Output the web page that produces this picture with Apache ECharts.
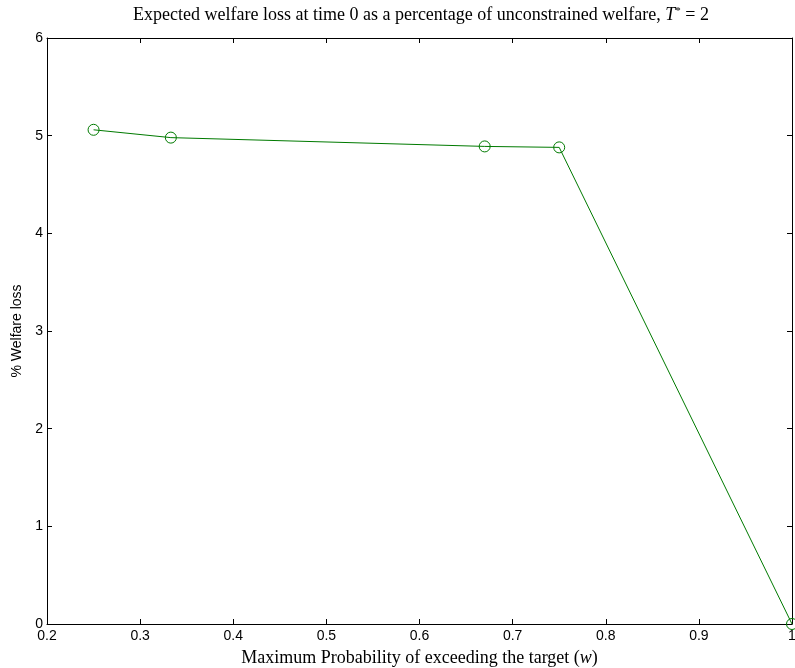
<!DOCTYPE html>
<html>
<head>
<meta charset="utf-8">
<script src="https://cdn.jsdelivr.net/npm/echarts@6/dist/echarts.min.js"></script>
<style>
  html, body { margin: 0; padding: 0; background: #fff; }
  #chart { width: 795px; height: 668px; }
</style>
</head>
<body>
<div id="chart"></div>
<script>
// Maximum probability of exceeding the target (w)
const probW = [0.25, 0.333, 0.67, 0.75, 1.0];
// Expected welfare loss at time 0, % of unconstrained welfare
const welfareLoss = [5.06, 4.98, 4.89, 4.88, 0.0];
const xTicks = [0.2, 0.3, 0.4, 0.5, 0.6, 0.7, 0.8, 0.9, 1];
const yTicks = [0, 1, 2, 3, 4, 5, 6];

const chart = echarts.init(document.getElementById('chart'));
const sans = 'Liberation Sans, Arial, sans-serif';
const serif = 'Liberation Serif, Times New Roman, serif';
const green = '#007a00';

const tickCommon = { show: true, inside: true, length: 5, lineStyle: { color: '#000', width: 1 } };
const lineCommon = { show: true, onZero: false, lineStyle: { color: '#000', width: 1 } };

chart.setOption({
  backgroundColor: '#fff',
  animation: false,
  title: {
    text: 'Expected welfare loss at time 0 as a percentage of unconstrained welfare, {i|T}{s|*} = 2',
    left: 128,
    top: 1,
    textStyle: {
      fontFamily: serif, fontSize: 18, fontWeight: 'normal', color: '#000',
      rich: {
        i: { fontFamily: serif, fontSize: 18, fontStyle: 'italic', color: '#000' },
        s: { fontFamily: serif, fontSize: 11, color: '#000', verticalAlign: 'top', padding: [0, 0, 7, 0] }
      }
    }
  },
  grid: { left: 47, right: 3, top: 38, bottom: 44, outerBoundsMode: 'none', containLabel: false },
  xAxis: [{
    type: 'value', min: 0.2, max: 1, interval: 0.1,
    axisLine: lineCommon, axisTick: tickCommon, splitLine: { show: false },
    axisLabel: {
      color: '#000', fontFamily: sans, fontSize: 14, margin: 5, hideOverlap: false,
      formatter: v => xTicks.find(t => Math.abs(t - v) < 1e-9) !== undefined ? String(+v.toFixed(1)) : ''
    },
    name: 'Maximum Probability of exceeding the target ({i|w})',
    nameLocation: 'middle', nameGap: 25,
    nameTextStyle: {
      fontFamily: serif, fontSize: 18, color: '#000',
      rich: { i: { fontFamily: serif, fontSize: 18, fontStyle: 'italic', color: '#000' } }
    }
  }, {
    type: 'value', position: 'top', min: 0.2, max: 1, interval: 0.1,
    axisLine: lineCommon, axisTick: tickCommon, splitLine: { show: false },
    axisLabel: { show: false }
  }],
  yAxis: [{
    type: 'value', min: 0, max: 6, interval: 1,
    axisLine: lineCommon, axisTick: tickCommon, splitLine: { show: false },
    axisLabel: {
      color: '#000', fontFamily: sans, fontSize: 14, margin: 4,
      formatter: v => yTicks.includes(v) ? String(v) : ''
    },
    name: '% Welfare loss', nameLocation: 'middle', nameGap: 19, nameRotate: 90,
    nameTextStyle: { fontFamily: sans, fontSize: 14, color: '#000' }
  }, {
    type: 'value', position: 'right', min: 0, max: 6, interval: 1,
    axisLine: lineCommon, axisTick: tickCommon, splitLine: { show: false },
    axisLabel: { show: false }
  }],
  series: [{
    type: 'line',
    data: probW.map((w, i) => [w, welfareLoss[i]]),
    symbol: 'circle', symbolSize: 11,
    lineStyle: { color: green, width: 1 },
    itemStyle: { color: 'rgba(0,0,0,0)', borderColor: green, borderWidth: 1 },
    clip: false
  }]
});
</script>
</body>
</html>
